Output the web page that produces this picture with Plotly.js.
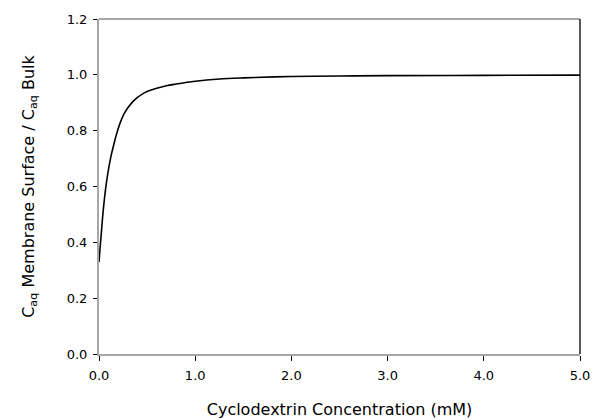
<!DOCTYPE html>
<html>
<head>
<meta charset="utf-8">
<script src="https://cdn.plot.ly/plotly-3.0.1.min.js"></script>
<style>html,body{margin:0;padding:0;background:#fff;}#chart{width:594px;height:420px;}</style>
</head>
<body>
<div id="chart"></div>
<script>
// Cyclodextrin concentration (mM)
var concentration = [0, 0.01, 0.02, 0.035, 0.05, 0.07, 0.09, 0.11, 0.13, 0.15, 0.18, 0.22, 0.26, 0.3, 0.35, 0.4, 0.45, 0.5, 0.6, 0.7, 0.8, 1.0, 1.25, 1.5, 2.0, 2.5, 3.0, 4.0, 5.0];
// C_aq membrane surface / C_aq bulk
var ratio = [0.33, 0.375, 0.415, 0.48, 0.535, 0.595, 0.643, 0.683, 0.717, 0.745, 0.785, 0.828, 0.86, 0.882, 0.903, 0.919, 0.931, 0.94, 0.952, 0.961, 0.967, 0.977, 0.985, 0.989, 0.994, 0.996, 0.997, 0.998, 0.999];
var xTicks = [0, 1, 2, 3, 4, 5];
var yTicks = [0, 0.2, 0.4, 0.6, 0.8, 1.0, 1.2];

var font = 'DejaVu Sans, Verdana, sans-serif';
var axisGray = '#a6a6a6';

var data = [{
  x: concentration, y: ratio, type: 'scatter', mode: 'lines',
  line: {color: '#000', width: 1.6, shape: 'spline', smoothing: 1},
  hoverinfo: 'skip'
}];

var layout = {
  width: 594, height: 420,
  margin: {l: 99, r: 14, t: 19, b: 66},
  paper_bgcolor: '#fff', plot_bgcolor: '#fff',
  showlegend: false,
  font: {family: font, size: 13, color: '#000'},
  xaxis: {
    range: [0, 5], tickvals: xTicks, ticktext: xTicks.map(function(v){return v.toFixed(1);}),
    showgrid: false, zeroline: false, showline: true, linecolor: axisGray, linewidth: 2,
    ticks: 'outside', ticklen: 5, tickcolor: '#000', tickwidth: 1,
    ticklabelstandoff: 3,
    tickfont: {family: font, size: 13},
    title: {text: 'Cyclodextrin Concentration (mM)', font: {family: font, size: 16}, standoff: 22}
  },
  yaxis: {
    range: [0, 1.2], tickvals: yTicks, ticktext: yTicks.map(function(v){return v.toFixed(1);}),
    showgrid: false, zeroline: false, showline: true, linecolor: axisGray, linewidth: 2,
    ticks: 'outside', ticklen: 4, tickcolor: '#000', tickwidth: 1,
    ticklabelstandoff: 3,
    tickfont: {family: font, size: 13},
    title: {text: 'C<sub>aq</sub> Membrane Surface / C<sub>aq</sub> Bulk', font: {family: font, size: 16}, standoff: 28}
  },
  shapes: [
    {type: 'line', xref: 'paper', yref: 'paper', x0: 0, x1: 1, y0: 1, y1: 1, line: {color: axisGray, width: 2}},
    {type: 'line', xref: 'paper', yref: 'paper', x0: 1, x1: 1, y0: 0, y1: 1, line: {color: '#222', width: 1.5}}
  ]
};

Plotly.newPlot('chart', data, layout, {displayModeBar: false, staticPlot: true});
</script>
</body>
</html>
